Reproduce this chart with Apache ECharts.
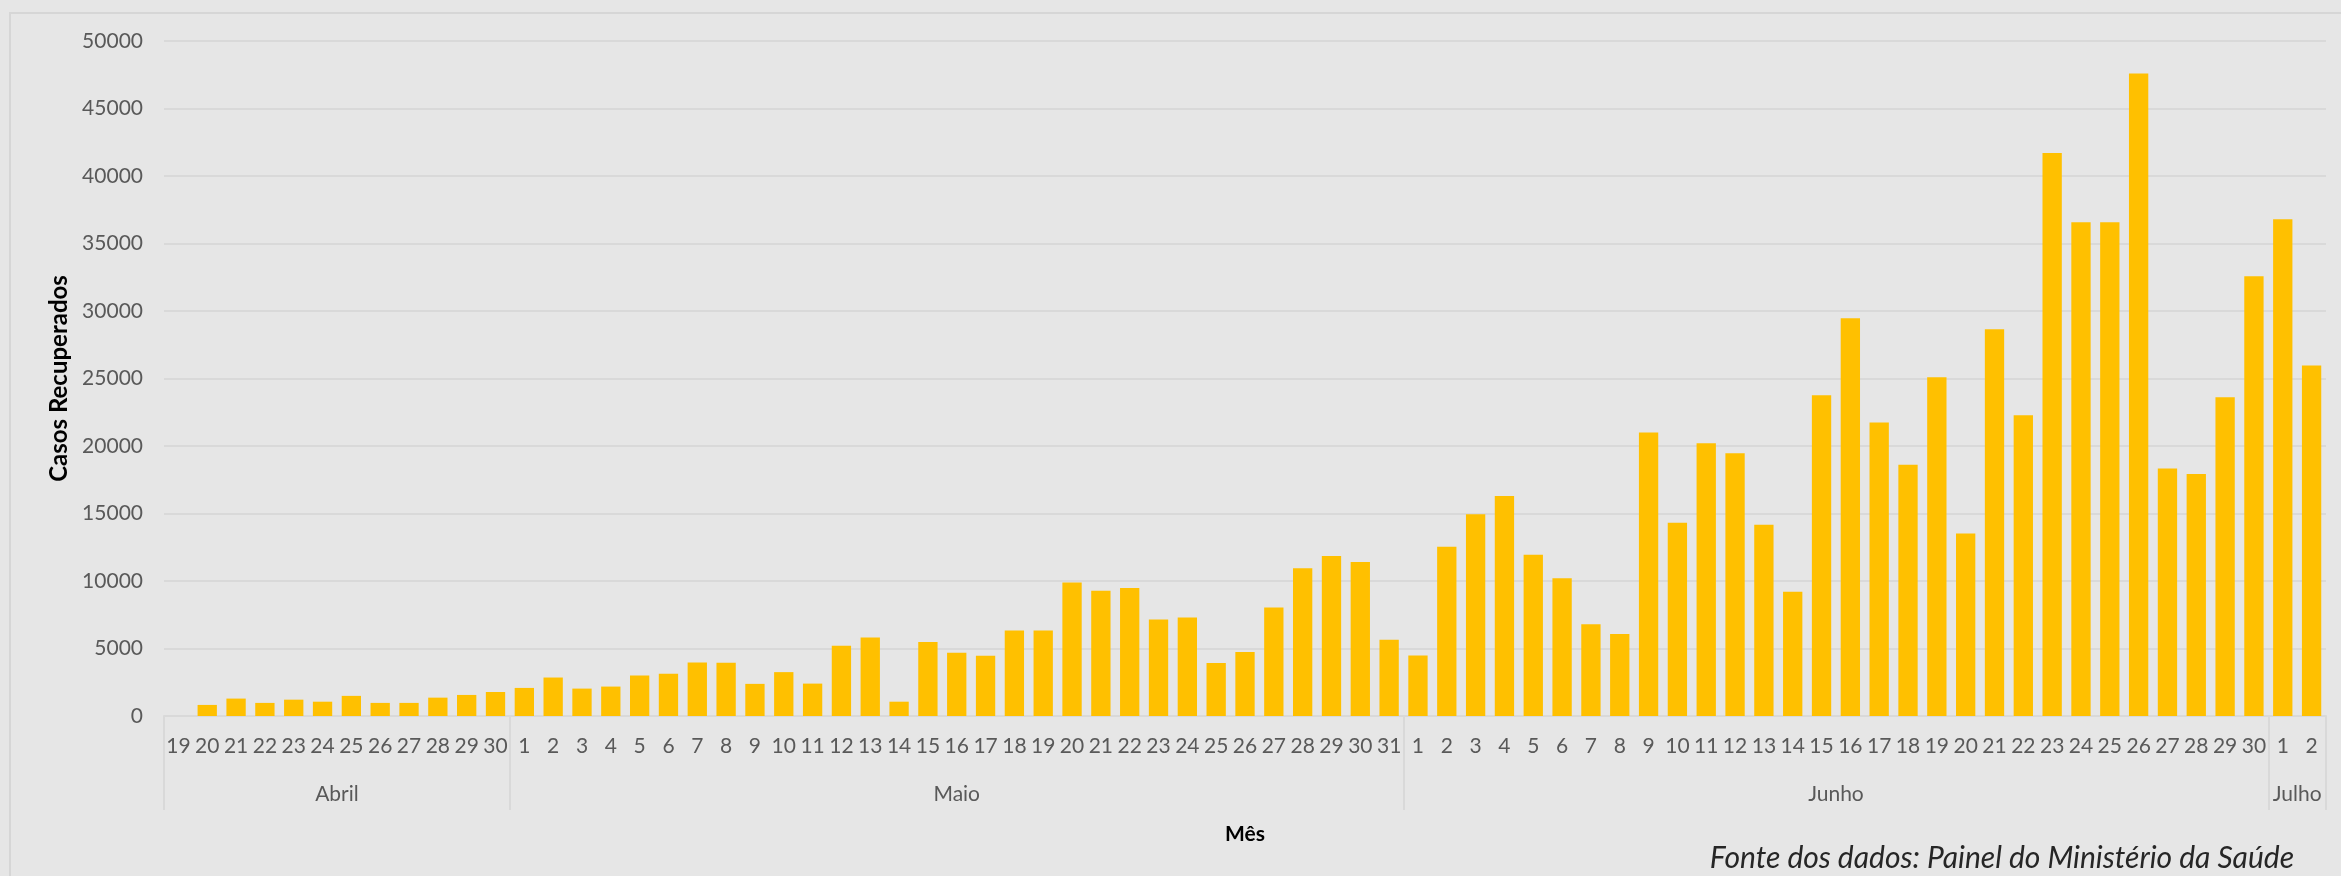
<!DOCTYPE html>
<html>
<head>
<meta charset="utf-8">
<script src="https://cdn.jsdelivr.net/npm/echarts@6/dist/echarts.min.js"></script>
<style>
  html, body { margin: 0; padding: 0; background: #e6e6e6; }
  #chart { width: 2341px; height: 876px; }
</style>
</head>
<body>
<div id="chart"></div>
<script>
// ---- data ----
const monthNames = ['Abril', 'Maio', 'Junho', 'Julho'];
const monthFirstDay = [19, 1, 1, 1];
const abrilValues = [0, 820, 1290, 970, 1210, 1060, 1490, 970, 970, 1360, 1560, 1780];
const maioValues = [2080, 2850, 2030, 2180, 3000, 3130, 3960, 3950, 2380, 3250, 2400, 5200, 5810, 1060, 5490, 4680,
  4460, 6330, 6330, 9880, 9280, 9480, 7150, 7290, 3920, 4750, 8030, 10940, 11850, 11400, 5640];
const junhoValues = [4480, 12540, 14950, 16300, 11950, 10200, 6800, 6080, 21000, 14320, 20200, 19460, 14170, 9210,
  23760, 29460, 21740, 18620, 25100, 13520, 28640, 22280, 41700, 36580, 36580, 47600, 18340, 17920, 23620, 32570];
const julhoValues = [36800, 25960];
const yTicks = { min: 0, max: 50000, interval: 5000 };
const yTitle = 'Casos Recuperados';
const xTitle = 'Mês';
const sourceNote = 'Fonte dos dados: Painel do Ministério da Saúde';

// ---- build ----
const monthValues = [abrilValues, maioValues, junhoValues, julhoValues];
const categories = [];
const values = [];
const boundaries = [0];
const monthCenters = [];
let pos = 0;
monthValues.forEach((arr, m) => {
  monthCenters.push(pos + arr.length / 2);
  arr.forEach((v, i) => {
    categories.push(String(monthFirstDay[m] + i));
    values.push(v);
  });
  pos += arr.length;
  boundaries.push(pos);
});
const total = pos;

const FONT = 'Lato, "Noto Sans", sans-serif';
const LABEL = '#595959';
const LINE = '#d9d9d9';

const chart = echarts.init(document.getElementById('chart'), null, { renderer: 'canvas' });
chart.setOption({
  animation: false,
  backgroundColor: '#e6e6e6',
  textStyle: { fontFamily: FONT },
  title: {
    text: sourceNote,
    right: 42,
    top: 838,
    textStyle: { fontFamily: FONT, fontStyle: 'italic', fontWeight: 'normal', fontSize: 30, color: '#262626' }
  },
  graphic: [{
    type: 'rect',
    z: -10,
    silent: true,
    shape: { x: 10, y: 13, width: 2360, height: 900 },
    style: { fill: 'none', stroke: '#d6d6d6', lineWidth: 2 }
  }],
  grid: { left: 164, right: 15, top: 41, bottom: 160, containLabel: false },
  xAxis: [{
    type: 'category',
    data: categories,
    position: 'bottom',
    axisLine: { show: true, lineStyle: { color: LINE, width: 2 } },
    axisTick: { show: false },
    axisLabel: { interval: 0, color: LABEL, fontSize: 21, fontFamily: FONT, margin: 20 },
    name: xTitle,
    nameLocation: 'middle',
    nameGap: 108,
    nameTextStyle: { fontFamily: FONT, fontWeight: 'bold', fontSize: 21, color: '#000' }
  }, {
    type: 'value',
    min: 0,
    max: total,
    position: 'bottom',
    axisLine: { show: false },
    splitLine: { show: false },
    axisTick: { show: true, customValues: boundaries, length: 94, lineStyle: { color: LINE, width: 2 } },
    axisLabel: {
      customValues: monthCenters,
      color: LABEL, fontSize: 21, fontFamily: FONT, margin: 68,
      formatter: (v) => {
        const idx = monthCenters.findIndex(c => Math.abs(c - v) < 1e-6);
        return idx >= 0 ? monthNames[idx] : '';
      }
    }
  }],
  yAxis: {
    type: 'value',
    min: yTicks.min,
    max: yTicks.max,
    interval: yTicks.interval,
    axisLine: { show: false },
    axisTick: { show: false },
    splitLine: { show: true, lineStyle: { color: LINE, width: 2 } },
    axisLabel: { color: LABEL, fontSize: 21, fontFamily: FONT, margin: 21, formatter: (v) => String(v) },
    name: yTitle,
    nameLocation: 'middle',
    nameRotate: 90,
    nameGap: 92,
    nameTextStyle: { fontFamily: FONT, fontWeight: 'bold', fontSize: 24, color: '#000' }
  },
  series: [{
    type: 'bar',
    xAxisIndex: 0,
    data: values,
    barCategoryGap: '33%',
    itemStyle: { color: '#FFC000' }
  }]
});
</script>
</body>
</html>
